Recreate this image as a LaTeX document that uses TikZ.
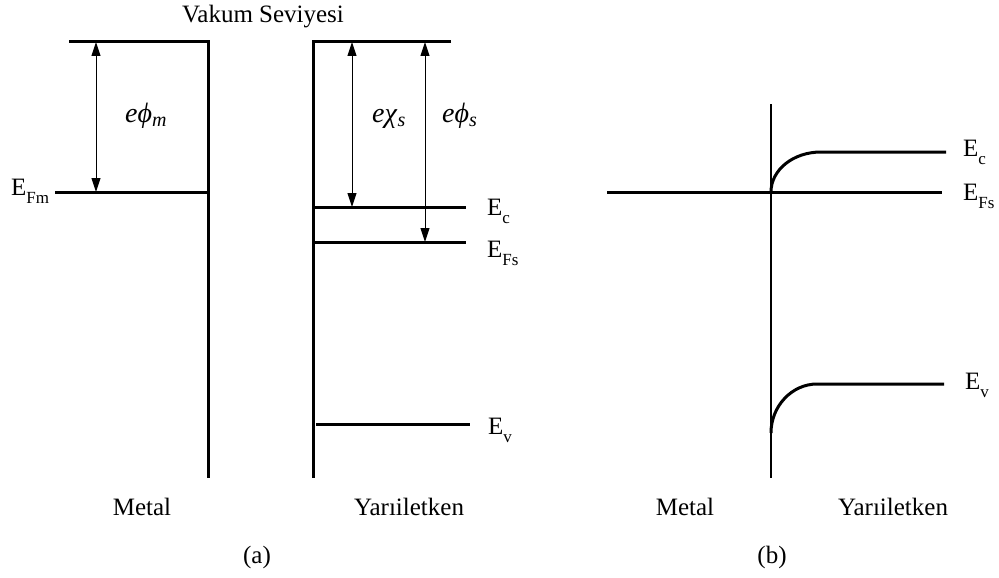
\documentclass[tikz,border=0pt]{standalone}
\usepackage{fontspec}
\setmainfont{Liberation Serif}
\usepackage{tikz}
\usetikzlibrary{arrows.meta}
% enerji seviyesi etiketi: E ve alt indis
\newcommand{\seviye}[1]{E\raisebox{-8pt}{\fontsize{17}{18}\selectfont #1}}
% italik enerji farki: e, yunan harfi ve alt indis
\newcommand{\fark}[2]{{\fontsize{28}{30}\selectfont\textit{e#1}}\raisebox{-4pt}{\fontsize{20}{20}\selectfont\textit{#2}}}

\begin{document}
\begin{tikzpicture}[
  x=1pt, y=-1pt,
  every node/.style={font=\fontsize{25}{30}\selectfont, inner sep=0pt},
  band/.style={line width=3pt, line join=miter},
  ince/.style={line width=2.4pt},
  gap/.style={{Triangle[length=14pt,width=9pt]}-{Triangle[length=14pt,width=9pt]}, line width=1pt},
  lbl/.style={anchor=base west},
  alt/.style={anchor=base}
]
\useasboundingbox (0,0) rectangle (999,578);

% (a) metal
\coordinate (mvac) at (69,42);
\coordinate (mkose) at (208,42);
\coordinate (mdip) at (208,478);
\coordinate (mfl) at (55,192);
\coordinate (mfr) at (208,192);
\draw[band] (mvac) -- (mkose) -- (mdip);
\draw[band] (mfl) -- (mfr);

% (a) yariiletken
\coordinate (svac) at (451,42);
\coordinate (skose) at (313,42);
\coordinate (sdip) at (313,478);
\coordinate (scl) at (313,207);
\coordinate (scr) at (466,207);
\coordinate (sfl) at (313,242);
\coordinate (sfr) at (466,242);
\coordinate (svl) at (316,424);
\coordinate (svr) at (470,424);
\draw[band] (svac) -- (skose) -- (sdip);
\draw[band] (scl) -- (scr);
\draw[band] (sfl) -- (sfr);
\draw[band] (svl) -- (svr);

% is fonksiyonu ve elektron ilgisi
\coordinate (phimt) at (96,42);
\coordinate (phimb) at (96,192);
\coordinate (chit) at (352,42);
\coordinate (chib) at (352,207);
\coordinate (phist) at (425,42);
\coordinate (phisb) at (425,242);
\draw[gap] (phimt) -- (phimb);
\draw[gap] (chit) -- (chib);
\draw[gap] (phist) -- (phisb);

\node[lbl] (phim) at (125,122) {\fark{ϕ}{m}};
\node[lbl] (chis) at (372,122) {\fark{χ}{s}};
\node[lbl] (phis) at (442,122) {\fark{ϕ}{s}};

\node[alt] (vakum) at (263,23) {Vakum Seviyesi};
\node[lbl] (efm) at (11,195) {\seviye{Fm}};
\node[lbl] (eca) at (487,215) {\seviye{c}};
\node[lbl] (efsa) at (487,257) {\seviye{Fs}};
\node[lbl] (eva) at (488,434) {\seviye{v}};

\node[alt] (metala) at (142,515) {Metal};
\node[alt] (yaria) at (409,515) {Yarıiletken};
\node[alt] (capa) at (257,563) {(a)};

% (b) kontak sonrasi
\coordinate (bust) at (771,104);
\coordinate (balt) at (771,478);
\coordinate (bfl) at (607,192);
\coordinate (bfr) at (942,192);
\coordinate (bc0) at (771,192);
\coordinate (bc1) at (821,152);
\coordinate (bcr) at (946,152);
\coordinate (bv0) at (771,433);
\coordinate (bv1) at (817,384);
\coordinate (bvr) at (944,384);
\draw[ince] (bust) -- (balt);
\draw[band] (bfl) -- (bfr);
\draw[band] (bc0) .. controls (771,170) and (793,152) .. (bc1) -- (bcr);
\draw[band] (bv0) .. controls (771,406) and (792,384) .. (bv1) -- (bvr);

\node[lbl] (ecb) at (963,156) {\seviye{c}};
\node[lbl] (efsb) at (963,200) {\seviye{Fs}};
\node[lbl] (evb) at (965,389) {\seviye{v}};

\node[alt] (metalb) at (685,515) {Metal};
\node[alt] (yarib) at (893,515) {Yarıiletken};
\node[alt] (capb) at (772,563) {(b)};
\end{tikzpicture}
\end{document}
